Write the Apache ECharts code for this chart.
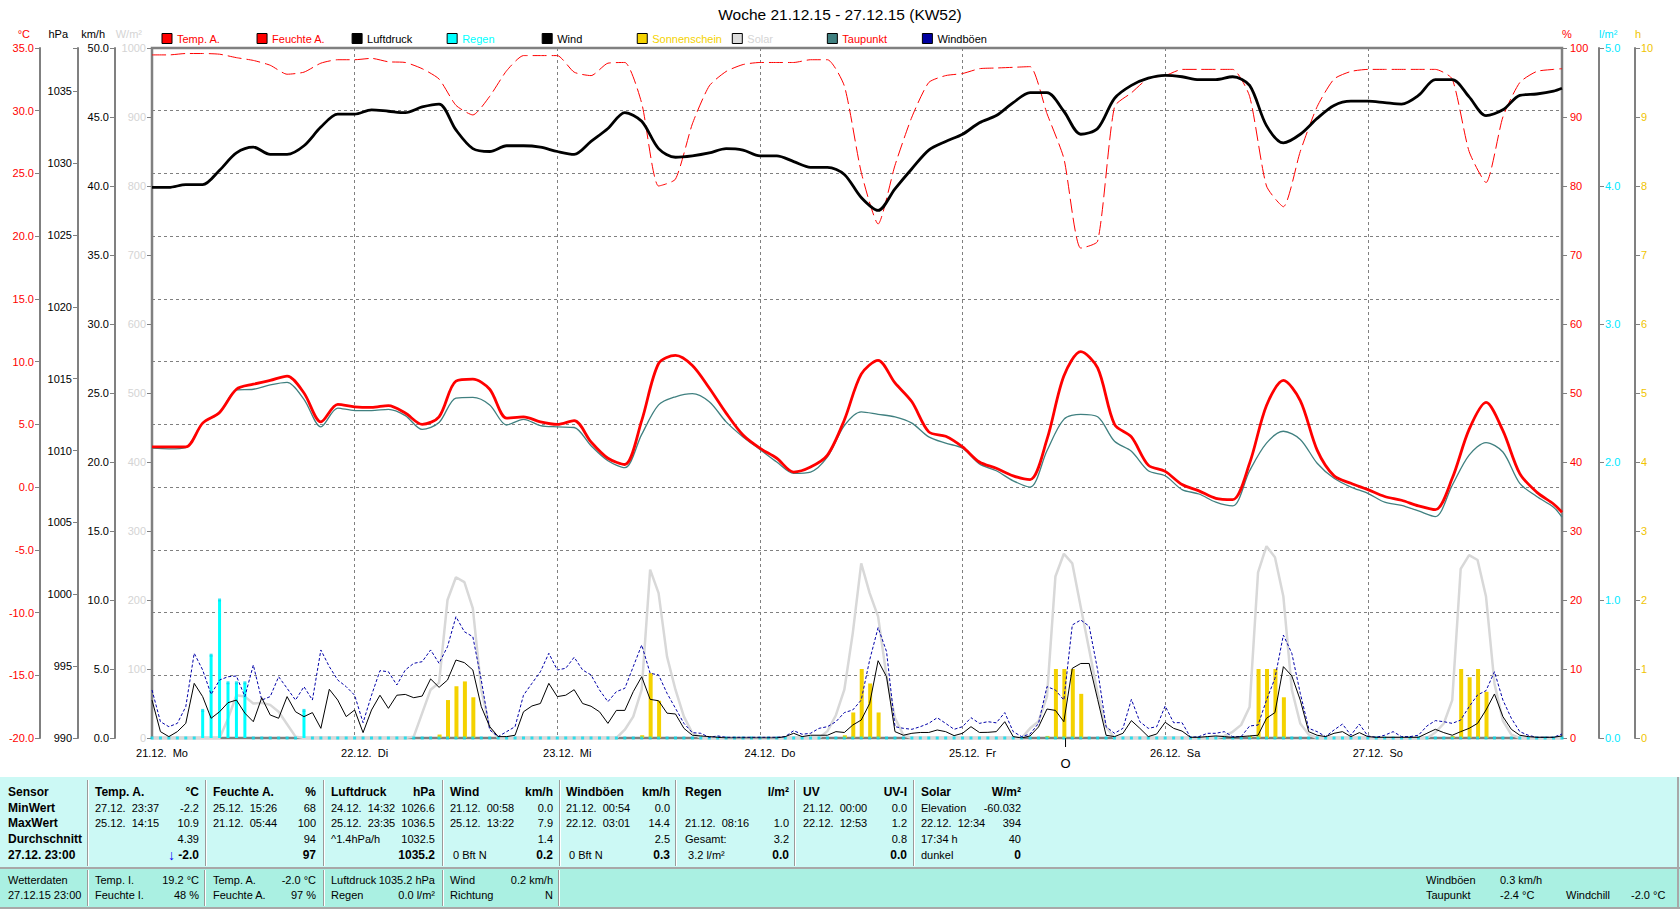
<!DOCTYPE html>
<html>
<head>
<meta charset="utf-8">
<title>Woche 21.12.15 - 27.12.15 (KW52)</title>
<script src="https://cdn.jsdelivr.net/npm/echarts@6/dist/echarts.min.js"></script>
<style>
html, body { margin: 0; padding: 0; background: #fff; }
#main { width: 1680px; height: 909px; }
</style>
</head>
<body>
<div id="main"></div>
<script>
var FONT = '"Liberation Sans", Arial, sans-serif';

var dayLabels = ['21.12.\u00a0 Mo', '22.12.\u00a0 Di', '23.12.\u00a0 Mi', '24.12.\u00a0 Do', '25.12.\u00a0 Fr', '26.12.\u00a0 Sa', '27.12.\u00a0 So'];

// time base: hours since 21.12. 00:00
var hours2 = [];
for (var h = 0; h < 168; h += 2) hours2.push(h);
hours2.push(167);
var hours1 = [];
for (var h = 0; h < 168; h++) hours1.push(h);

// 2-hourly series (+ last value 27.12. 23:00)
var tempA = [3.2, 3.2, 3.2, 5.1, 5.95, 7.8, 8.2, 8.5, 8.85, 7.5, 5.2, 6.6,
    6.4, 6.35, 6.5, 5.9, 5.0, 5.6, 8.45, 8.6, 7.8, 5.5, 5.6, 5.2,
    5.0, 5.3, 3.6, 2.3, 1.8, 5.3, 9.85, 10.5, 9.7, 7.9, 5.9, 4.15,
    3.1, 2.3, 1.2, 1.6, 2.55, 5.35, 9.0, 10.1, 8.3, 6.8, 4.4, 4.05,
    3.2, 2.0, 1.5, 0.9, 0.6, 3.8, 8.85, 10.8, 9.5, 5.0, 4.0, 1.75,
    1.25, 0.2, -0.3, -0.9, -1.0, 1.9, 6.5, 8.5, 6.9, 2.95, 0.9, 0.3,
    -0.2, -0.75, -1.05, -1.5, -1.8, 0.7, 4.6, 6.75, 4.5, 1.07, -0.4, -1.35,
    -2.0];
var taupunkt = [3.1, 3.05, 3.15, 5.1, 5.9, 7.75, 7.8, 8.15, 8.35, 7.0, 4.8, 6.3,
    6.1, 6.1, 6.2, 5.7, 4.6, 5.15, 7.1, 7.15, 6.55, 4.95, 5.4, 4.9,
    4.8, 4.75, 3.3, 2.1, 1.55, 4.2, 6.55, 7.2, 7.45, 6.8, 5.2, 4.0,
    3.0, 2.0, 1.1, 1.2, 2.4, 4.9, 6.0, 5.8, 5.6, 5.1, 4.0, 3.5,
    3.1, 1.85, 1.3, 0.5, 0.0, 2.9, 5.4, 5.8, 5.6, 3.65, 2.85, 1.3,
    0.9, -0.2, -0.55, -1.2, -1.5, 1.3, 3.5, 4.45, 3.8, 1.9, 0.7, 0.0,
    -0.5, -1.2, -1.45, -1.9, -2.35, 0.15, 2.55, 3.55, 2.8, 0.3, -0.75, -1.6,
    -2.4];
var feuchteA = [99.0, 99.0, 99.2, 99.2, 99.1, 98.6, 98.2, 97.5, 96.2, 96.5, 97.8, 98.3,
    98.3, 98.5, 98.0, 97.9, 97.0, 95.5, 91.7, 90.3, 93.0, 96.7, 98.9, 98.9,
    98.9, 96.5, 96.0, 97.8, 97.9, 92.0, 80.0, 81.0, 89.0, 94.5, 96.6, 97.6,
    97.9, 97.9, 97.9, 98.3, 98.3, 94.5, 82.0, 74.5, 83.0, 90.0, 95.0, 96.0,
    96.3, 97.0, 97.1, 97.2, 97.3, 90.5, 84.0, 71.0, 72.0, 91.5, 93.5, 95.6,
    96.0, 96.9, 96.9, 96.9, 96.9, 93.0, 80.0, 77.0, 85.0, 91.5, 95.5, 96.6,
    96.9, 96.9, 96.9, 96.9, 96.9, 95.5, 85.0, 80.5, 90.0, 95.0, 96.6, 96.9,
    97];
var luftdruck = [1028.3, 1028.3, 1028.5, 1028.5, 1029.5, 1030.7, 1031.1, 1030.6, 1030.6, 1031.2, 1032.5, 1033.4,
    1033.4, 1033.7, 1033.6, 1033.5, 1033.9, 1034.1, 1032.3, 1031.0, 1030.8, 1031.2, 1031.2, 1031.1,
    1030.8, 1030.6, 1031.5, 1032.4, 1033.5, 1032.9, 1031.0, 1030.4, 1030.5, 1030.7, 1031.0, 1030.9,
    1030.5, 1030.5, 1030.1, 1029.7, 1029.7, 1029.2, 1027.6, 1026.7, 1028.2, 1029.6, 1030.9, 1031.5,
    1032.0, 1032.8, 1033.3, 1034.2, 1034.9, 1034.9, 1033.6, 1032.0, 1032.4, 1034.5, 1035.4, 1035.9,
    1036.1, 1036.0, 1035.8, 1035.8, 1036.0, 1035.4, 1032.6, 1031.4, 1032.0, 1033.1, 1034.0, 1034.3,
    1034.3, 1034.2, 1034.1, 1034.7, 1035.8, 1035.8, 1034.6, 1033.3, 1033.7, 1034.7, 1034.8, 1035.0,
    1035.2];

// hourly series, one line per day
var wind = [2.75, 0.46, 0.1, 0.46, 1.06, 3.96, 3.0, 1.43, 1.9, 2.56, 2.75, 1.8, 1.18, 2.92, 1.67, 1.43, 3.0, 1.9, 1.55, 1.84, 0.7, 3.53, 2.75, 1.55,
    2.03, 0.39, 2.03, 3.1, 2.15, 3.1, 3.16, 2.92, 3.04, 4.28, 3.67, 4.2, 5.65, 5.46, 4.93, 2.27, 0.82, 0.1, 0.1, 0.2, 1.9, 2.32, 2.5, 3.96,
    3.0, 3.1, 3.5, 2.5, 2.3, 1.9, 1.06, 2.0, 2.0, 3.36, 4.44, 2.8, 2.7, 1.8, 1.74, 0.7, 0.2, 0.15, 0.1, 0.05, 0, 0, 0, 0,
    0, 0, 0, 0.1, 0.34, 0.1, 0.2, 0.2, 0.2, 0.46, 0.4, 0.94, 1.3, 2.5, 5.6, 4.44, 0.46, 0.2, 0.34, 0.4, 0.4, 0.58, 0.46, 0.17,
    0.34, 0.82, 0.4, 0.41, 0.46, 1.18, 0.1, 0, 0.15, 0.8, 2.1, 2.0, 1.18, 5.05, 5.4, 5.4, 2.8, 0.2, 0.1, 0.34, 1.26, 0.7, 0.1, 0.29,
    1.14, 0.7, 0.5, 0.05, 0.05, 0.1, 0.15, 0.1, 0.05, 0.1, 0.15, 0.2, 1.43, 1.84, 5.17, 4.5, 2.75, 0.46, 0.2, 0.1, 0.34, 0.46, 0.1, 0.39,
    0.1, 0.05, 0.05, 0.05, 0.05, 0.05, 0.05, 0.34, 0.63, 0.39, 0.2, 0.46, 0.7, 1.06, 2.03, 3.19, 1.55, 0.63, 0.2, 0.1, 0.05, 0.05, 0.05, 0.15];
var windboeen = [3.48, 1.18, 0.82, 1.06, 2.27, 6.14, 4.93, 3.16, 4.2, 4.44, 4.49, 3.0, 5.29, 2.75, 3.0, 4.44, 3.6, 2.75, 3.72, 2.75, 6.38, 5.17, 4.2, 3.72,
    3.1, 1.11, 3.1, 4.88, 4.8, 3.84, 4.93, 5.41, 5.53, 6.38, 5.41, 6.62, 8.79, 7.7, 7.34, 4.2, 0.58, 0.1, 0.46, 0.82, 3.1, 3.96, 4.8, 6.14,
    4.93, 5.05, 5.85, 4.93, 4.57, 3.48, 2.63, 3.36, 3.6, 5.17, 6.74, 4.69, 4.57, 3.24, 2.15, 1.06, 0.39, 0.34, 0.05, 0.15, 0.05, 0.05, 0.05, 0.05,
    0.05, 0.05, 0.05, 0.1, 0.53, 0.27, 0.34, 0.7, 0.82, 1.18, 1.84, 2.03, 2.75, 5.65, 8.0, 6.26, 0.82, 0.7, 0.63, 0.82, 1.06, 1.47, 1.06, 0.63,
    0.82, 1.47, 1.06, 1.18, 1.1, 1.84, 0.46, 0.1, 0.29, 1.06, 3.72, 3.48, 2.75, 8.19, 8.55, 8.1, 4.93, 0.82, 0.34, 0.7, 2.8, 1.18, 0.7, 0.82,
    2.32, 1.11, 1.11, 0.05, 0.1, 0.34, 0.34, 0.46, 0.1, 0.1, 0.87, 0.94, 2.75, 4.32, 7.46, 6.14, 3.24, 0.7, 0.46, 0.1, 0.58, 1.01, 0.2, 1.01,
    0.15, 0.05, 0.2, 0.46, 0.1, 0.1, 0.2, 0.87, 1.26, 1.18, 1.06, 1.3, 2.27, 3.12, 3.43, 4.8, 2.75, 1.43, 0.46, 0.2, 0.05, 0.05, 0.05, 0.29];
var solar = [0, 0, 0, 0, 0, 0, 0, 0, 0, 28, 62, 60, 50, 51, 48, 38, 20, 2, 0, 0, 0, 0, 0, 0,
    0, 0, 0, 0, 0, 0, 0, 2, 36, 70, 80, 200, 233, 226, 188, 70, 15, 0, 0, 0, 0, 0, 0, 0,
    0, 0, 0, 0, 0, 0, 0, 0, 12, 31, 70, 244, 210, 118, 70, 31, 7, 0, 0, 0, 0, 0, 0, 0,
    0, 0, 0, 0, 0, 0, 0, 0, 10, 33, 70, 152, 253, 210, 176, 89, 29, 4, 0, 0, 0, 0, 0, 0,
    0, 0, 0, 0, 0, 0, 0, 0, 14, 24, 60, 234, 267, 253, 190, 128, 65, 16, 0, 0, 0, 0, 0, 0,
    0, 0, 0, 0, 0, 0, 0, 3, 9, 19, 45, 240, 278, 262, 205, 70, 21, 5, 0, 0, 0, 0, 0, 0,
    0, 0, 0, 0, 0, 0, 0, 0, 8, 21, 55, 245, 265, 258, 205, 79, 25, 5, 0, 0, 0, 0, 0, 0];
var sonne = [0, 0, 0, 0, 0, 0, 0, 0, 0, 0, 0, 0, 0, 0, 0, 0, 0, 0, 0, 0, 0, 0, 0, 0,
    0, 0, 0, 0, 0, 0, 0, 0, 0, 0, 0.05, 0.55, 0.75, 0.82, 0.59, 0, 0, 0, 0, 0, 0, 0, 0, 0,
    0, 0, 0, 0, 0, 0, 0, 0, 0, 0, 0.04, 0.94, 0.54, 0, 0, 0, 0, 0, 0, 0, 0, 0, 0, 0,
    0, 0, 0, 0, 0, 0, 0, 0, 0, 0, 0.04, 0.37, 1.0, 0.79, 0.37, 0, 0, 0, 0, 0, 0, 0, 0, 0,
    0, 0, 0, 0, 0, 0, 0, 0, 0, 0, 0.03, 1.0, 1.0, 1.0, 0.64, 0, 0, 0, 0, 0, 0, 0, 0, 0,
    0, 0, 0, 0, 0, 0, 0, 0, 0, 0, 0.03, 1.0, 1.0, 1.0, 0.59, 0, 0, 0, 0, 0, 0, 0, 0, 0,
    0, 0, 0, 0, 0, 0, 0, 0, 0, 0, 0.03, 1.0, 0.88, 1.0, 0.67, 0, 0, 0, 0, 0, 0, 0, 0, 0];
var regen = [0, 0, 0, 0, 0, 0, 0.2, 0.6, 1.0, 0.4, 0.4, 0.4, 0, 0, 0, 0, 0, 0, 0.2, 0, 0, 0, 0, 0,
    0, 0, 0, 0, 0, 0, 0, 0, 0, 0, 0, 0, 0, 0, 0, 0, 0, 0, 0, 0, 0, 0, 0, 0,
    0, 0, 0, 0, 0, 0, 0, 0, 0, 0, 0, 0, 0, 0, 0, 0, 0, 0, 0, 0, 0, 0, 0, 0,
    0, 0, 0, 0, 0, 0, 0, 0, 0, 0, 0, 0, 0, 0, 0, 0, 0, 0, 0, 0, 0, 0, 0, 0,
    0, 0, 0, 0, 0, 0, 0, 0, 0, 0, 0, 0, 0, 0, 0, 0, 0, 0, 0, 0, 0, 0, 0, 0,
    0, 0, 0, 0, 0, 0, 0, 0, 0, 0, 0, 0, 0, 0, 0, 0, 0, 0, 0, 0, 0, 0, 0, 0,
    0, 0, 0, 0, 0, 0, 0, 0, 0, 0, 0, 0, 0, 0, 0, 0, 0, 0, 0, 0, 0, 0, 0, 0];

var moonHour = 108.2; // Vollmond 25.12.

var legendNames = ['Temp. A.', 'Feuchte A.', 'Luftdruck', 'Regen', 'Wind', 'Sonnenschein', 'Solar', 'Taupunkt', 'Windböen'];
var legendBoxColors = ['#ff0000', '#ff0000', '#000000', '#00ffff', '#000000', '#f4d200', '#dcdcdc', '#408080', '#0000a0'];
var legendTextColors = ['#ff0000', '#ff0000', '#000000', '#00ffff', '#000000', '#f4d200', '#d4d4d4', '#ff0000', '#000000'];

// statistics table
var tabHeads = ['Sensor', 'MinWert', 'MaxWert', 'Durchschnitt', '27.12. 23:00'];
var tabCols = [
    [['Temp. A.', '°C'], ['27.12.\u00a0 23:37', '-2.2'], ['25.12.\u00a0 14:15', '10.9'], ['', '4.39'], ['', '-2.0']],
    [['Feuchte A.', '%'], ['25.12.\u00a0 15:26', '68'], ['21.12.\u00a0 05:44', '100'], ['', '94'], ['', '97']],
    [['Luftdruck', 'hPa'], ['24.12.\u00a0 14:32', '1026.6'], ['25.12.\u00a0 23:35', '1036.5'], ['^1.4hPa/h', '1032.5'], ['', '1035.2']],
    [['Wind', 'km/h'], ['21.12.\u00a0 00:58', '0.0'], ['25.12.\u00a0 13:22', '7.9'], ['', '1.4'], ['\u00a00 Bft N', '0.2']],
    [['Windböen', 'km/h'], ['21.12.\u00a0 00:54', '0.0'], ['22.12.\u00a0 03:01', '14.4'], ['', '2.5'], ['\u00a00 Bft N', '0.3']],
    [['Regen', 'l/m²'], ['', ''], ['21.12.\u00a0 08:16', '1.0'], ['Gesamt:', '3.2'], ['\u00a03.2 l/m²', '0.0']],
    [['UV', 'UV-I'], ['21.12.\u00a0 00:00', '0.0'], ['22.12.\u00a0 12:53', '1.2'], ['', '0.8'], ['', '0.0']],
    [['Solar', 'W/m²'], ['Elevation', '-60.032'], ['22.12.\u00a0 12:34', '394'], ['17:34 h', '40'], ['dunkel', '0']]
];
var curCols = [
    [['Wetterdaten', ''], ['27.12.15 23:00', '']],
    [['Temp. I.', '19.2 °C'], ['Feuchte I.', '48 %']],
    [['Temp. A.', '-2.0 °C'], ['Feuchte A.', '97 %']],
    [['Luftdruck', '1035.2 hPa'], ['Regen', '0.0 l/m²']],
    [['Wind', '0.2 km/h'], ['Richtung', 'N']]
];
var curRight = [['Windböen', '0.3 km/h', '', ''], ['Taupunkt', '-2.4 °C', 'Windchill', '-2.0 °C']];

// layout of the table
var tabColX = [[95, 199], [213, 316], [331, 435], [450, 553], [566, 670], [685, 789], [803, 907], [921, 1021]];
var tabSepX = [88, 206, 324, 443, 560, 676, 795, 914];
var tabRowY = [792, 808, 823, 839, 855];
var curColX = [[8, 0], [95, 199], [213, 316], [331, 435], [450, 553]];
var curSepX = [88, 205, 324, 443, 559];
var curRowY = [880, 895];
var curRightX = [1426, 1500, 1566, 1631];

function pairs(xs, ys) {
    return ys.map(function (v, i) { return [xs[i], v]; });
}

function leftAxis(offset, min, max, interval, color, name, fmt) {
    return {
        type: 'value', position: 'left', offset: offset, min: min, max: max, interval: interval,
        name: name, nameLocation: 'end', nameGap: 9,
        nameTextStyle: {color: color, fontSize: 11, fontFamily: FONT, align: 'right', padding: [0, 10, 0, 0]},
        axisLine: {show: true, onZero: false, lineStyle: {color: '#808080', width: 2}},
        axisTick: {show: true, length: 5, lineStyle: {color: '#808080'}},
        axisLabel: {color: color, fontSize: 11, fontFamily: FONT, margin: 6, formatter: fmt},
        splitLine: {show: false}
    };
}

function rightAxis(offset, min, max, interval, color, name, fmt, margin) {
    return {
        type: 'value', position: 'right', offset: offset, min: min, max: max, interval: interval,
        name: name, nameLocation: 'end', nameGap: 9,
        nameTextStyle: {color: color, fontSize: 11, fontFamily: FONT, align: 'left', padding: [0, 0, 0, 0]},
        axisLine: {show: true, onZero: false, lineStyle: {color: '#808080', width: 2}},
        axisTick: {show: true, length: 5, lineStyle: {color: '#808080'}},
        axisLabel: {color: color, fontSize: 11, fontFamily: FONT, margin: margin, formatter: fmt},
        splitLine: {show: false}
    };
}

var fix1 = function (v) { return v.toFixed(1); };
var plain = function (v) { return String(v); };

var tempAxis = leftAxis(112, -20, 35, 5, '#ff0000', '°C', fix1);
tempAxis.splitLine = {show: true, lineStyle: {color: '#808080', type: [3, 3], width: 1}};

var myChart = echarts.init(document.getElementById('main'), null, {renderer: 'svg'});

var option = {
    animation: false,
    backgroundColor: '#ffffff',
    title: {
        text: 'Woche 21.12.15 - 27.12.15 (KW52)',
        left: 'center', top: 6, padding: 0,
        textStyle: {fontSize: 15.5, fontWeight: 'normal', color: '#000', fontFamily: FONT}
    },
    legend: legendNames.map(function (n, i) {
        return {
            data: [{name: n, icon: 'rect', itemStyle: {color: legendBoxColors[i], borderColor: '#000', borderWidth: 1}}],
            left: 161.5 + 95.05 * i, top: 33, padding: 0,
            itemWidth: 10, itemHeight: 10, selectedMode: false,
            textStyle: {color: legendTextColors[i], fontSize: 11, fontFamily: FONT}
        };
    }),
    grid: {
        left: 152, right: 118, top: 48, bottom: 171,
        show: true, borderColor: '#808080', borderWidth: 2.5, backgroundColor: 'transparent'
    },
    xAxis: {
        type: 'value', min: 0, max: 167, interval: 24,
        axisLine: {show: false, onZero: false},
        axisTick: {show: false},
        axisLabel: {
            color: '#000', fontSize: 11, fontFamily: FONT, margin: 9, align: 'center', padding: [0, 0, 0, 20],
            formatter: function (v) { return v % 24 === 0 ? dayLabels[v / 24] : ''; }
        },
        splitLine: {show: true, lineStyle: {color: '#808080', type: [3, 3], width: 1}}
    },
    yAxis: [
        tempAxis,
        leftAxis(74, 990, 1038, 5, '#000000', 'hPa', function (v) { return v % 5 === 0 ? String(v) : ''; }),
        leftAxis(37, 0, 50, 5, '#000000', 'km/h', fix1),
        leftAxis(0, 0, 1000, 100, '#d4d4d4', 'W/m²', plain),
        rightAxis(0, 0, 100, 10, '#ff0000', '%', plain, 8),
        rightAxis(37, 0, 5, 1, '#00e8ff', 'l/m²', fix1, 6),
        rightAxis(73, 0, 10, 1, '#f0c400', 'h', plain, 6)
    ],
    series: [
        {name: 'Solar', type: 'line', yAxisIndex: 3, data: pairs(hours1, solar), showSymbol: false,
            lineStyle: {color: '#d8d8d8', width: 2.5}, itemStyle: {color: '#d8d8d8'}, z: 2},
        {name: 'Sonnenschein', type: 'bar', yAxisIndex: 6, data: pairs(hours1, sonne), barWidth: 4, barGap: '-100%',
            itemStyle: {color: '#f4d200'}, z: 3},
        {name: 'Regen', type: 'bar', yAxisIndex: 5, data: pairs(hours1, regen), barWidth: 3, barGap: '-100%',
            itemStyle: {color: '#00ffff'}, z: 3},
        {name: 'Regen', type: 'scatter', yAxisIndex: 5, data: pairs(hours1, regen), symbol: 'rect', symbolSize: 3,
            itemStyle: {color: '#00e0f0'}, z: 4},
        {name: 'Windböen', type: 'line', yAxisIndex: 2, data: pairs(hours1, windboeen), showSymbol: false,
            lineStyle: {color: '#0000a8', width: 1, type: [3, 2]}, itemStyle: {color: '#0000a8'}, z: 5},
        {name: 'Wind', type: 'line', yAxisIndex: 2, data: pairs(hours1, wind), showSymbol: false,
            lineStyle: {color: '#000000', width: 1}, itemStyle: {color: '#000000'}, z: 6},
        {name: 'Feuchte A.', type: 'line', yAxisIndex: 4, data: pairs(hours2, feuchteA), showSymbol: false, smooth: 0.2,
            lineStyle: {color: '#ff0000', width: 1, type: [14, 5]}, itemStyle: {color: '#ff0000'}, z: 7},
        {name: 'Taupunkt', type: 'line', yAxisIndex: 0, data: pairs(hours2, taupunkt), showSymbol: false, smooth: 0.3,
            lineStyle: {color: '#408080', width: 1.3}, itemStyle: {color: '#408080'}, z: 8},
        {name: 'Temp. A.', type: 'line', yAxisIndex: 0, data: pairs(hours2, tempA), showSymbol: false, smooth: 0.3,
            lineStyle: {color: '#ff0000', width: 2.8}, itemStyle: {color: '#ff0000'}, z: 9},
        {name: 'Luftdruck', type: 'line', yAxisIndex: 1, data: pairs(hours2, luftdruck), showSymbol: false, smooth: 0.3,
            lineStyle: {color: '#000000', width: 2.8}, itemStyle: {color: '#000000'}, z: 9}
    ]
};

myChart.setOption(option);

// table and moon marker
function txt(x, y, s, align, bold, color) {
    return {
        type: 'text', x: x, y: y, silent: true,
        style: {text: s, textAlign: align, textVerticalAlign: 'middle', fill: color || '#000',
            font: (bold ? 'bold 12px ' : '11px ') + FONT}
    };
}
function vline(x, y1, y2) {
    return [
        {type: 'line', silent: true, shape: {x1: x - 0.5, y1: y1, x2: x - 0.5, y2: y2}, style: {stroke: '#9a9a9a', lineWidth: 1}},
        {type: 'line', silent: true, shape: {x1: x + 0.5, y1: y1, x2: x + 0.5, y2: y2}, style: {stroke: '#ffffff', lineWidth: 1}}
    ];
}

var els = [];
els.push({type: 'rect', silent: true, shape: {x: 0, y: 777, width: 1680, height: 90}, style: {fill: '#ccf9f5'}});
els.push({type: 'rect', silent: true, shape: {x: 0, y: 867, width: 1680, height: 2}, style: {fill: '#a8a8a8'}});
els.push({type: 'rect', silent: true, shape: {x: 0, y: 869, width: 1680, height: 38}, style: {fill: '#aaf0e2'}});
els.push({type: 'rect', silent: true, shape: {x: 0, y: 907, width: 1680, height: 2}, style: {fill: '#a8a8a8'}});
els.push({type: 'rect', silent: true, shape: {x: 1677, y: 777, width: 2, height: 132}, style: {fill: '#a8a8a8'}});

tabSepX.forEach(function (x) { els = els.concat(vline(x, 780, 866)); });
curSepX.forEach(function (x) { els = els.concat(vline(x, 870, 906)); });

tabHeads.forEach(function (s, r) { els.push(txt(8, tabRowY[r], s, 'left', true)); });
tabCols.forEach(function (col, c) {
    col.forEach(function (row, r) {
        var boldRight = r === 0 || r === 4;
        if (row[0]) els.push(txt(tabColX[c][0], tabRowY[r], row[0], 'left', r === 0));
        if (row[1]) els.push(txt(tabColX[c][1], tabRowY[r], row[1], 'right', boldRight));
    });
});
// falling temperature arrow
els.push({type: 'text', x: tabColX[0][1] - 24, y: tabRowY[4], silent: true,
    style: {text: '↓', textAlign: 'right', textVerticalAlign: 'middle', fill: '#0000ff', font: 'bold 14px ' + FONT}});

curCols.forEach(function (col, c) {
    col.forEach(function (row, r) {
        if (row[0]) els.push(txt(curColX[c][0], curRowY[r], row[0], 'left', false));
        if (row[1]) els.push(txt(curColX[c][1], curRowY[r], row[1], 'right', false));
    });
});
curRight.forEach(function (row, r) {
    row.forEach(function (s, k) {
        if (s) els.push(txt(curRightX[k], curRowY[r], s, 'left', false));
    });
});

var moonX = myChart.convertToPixel({xAxisIndex: 0}, moonHour);
var baseY = myChart.convertToPixel({yAxisIndex: 0}, -20);
els.push({type: 'line', silent: true, shape: {x1: moonX, y1: baseY, x2: moonX, y2: baseY + 9}, style: {stroke: '#000', lineWidth: 1}});
els.push({type: 'text', x: moonX, y: baseY + 25, silent: true,
    style: {text: 'O', textAlign: 'center', textVerticalAlign: 'middle', fill: '#000', font: '13px ' + FONT}});

myChart.setOption({graphic: {elements: els}});
window.onresize = myChart.resize;
</script>
</body>
</html>
